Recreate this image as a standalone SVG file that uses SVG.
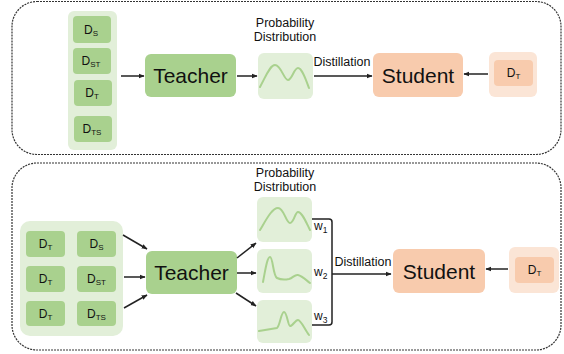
<svg xmlns="http://www.w3.org/2000/svg" width="564" height="354" viewBox="0 0 564 354">
<defs>
<marker id="ah" viewBox="0 0 10 10" refX="9" refY="5" markerWidth="4" markerHeight="4" orient="auto" markerUnits="strokeWidth">
<path d="M0,1 L10,5 L0,9 z" fill="#222"/>
</marker>
<style>
.panel{fill:#fff;stroke:#333;stroke-width:1.2;stroke-dasharray:2 1}
.grp{fill:#e2efd9}
.box{fill:#a9d18e}
.dist{fill:#e2efd9}
.curve{fill:none;stroke:#a9d18e;stroke-width:2;stroke-linejoin:round;stroke-linecap:round}
.stu{fill:#f8cbad}
.stuo{fill:#fbe5d6}
.big{font-family:"Liberation Sans",Arial,sans-serif;font-size:21px;fill:#111;text-anchor:middle}
.d{font-family:"Liberation Sans",Arial,sans-serif;font-size:12px;fill:#111;text-anchor:middle}
.sub{font-size:8px}
.lbl{font-family:"Liberation Sans",Arial,sans-serif;font-size:12.5px;fill:#111;text-anchor:middle}
.w{font-family:"Liberation Sans",Arial,sans-serif;font-size:12px;fill:#111}
.wsub{font-size:8.5px}
.arr{stroke:#222;stroke-width:1.5;fill:none;marker-end:url(#ah)}
.brk{stroke:#222;stroke-width:1.5;fill:none}
</style>
</defs>

<rect class="panel" x="12" y="1.5" width="549" height="153" rx="25"/>
<rect class="panel" x="12" y="163" width="549" height="187" rx="25"/>

<!-- top panel -->
<g id="top-data">
<rect class="grp" x="68" y="11" width="49" height="139" rx="6"/>
<rect class="box" x="73" y="16" width="38" height="27" rx="4"/>
<text class="d" x="91" y="34">D<tspan class="sub" dy="2">S</tspan></text>
<rect class="box" x="73" y="48" width="38" height="26" rx="4"/>
<text class="d" x="91" y="65">D<tspan class="sub" dy="2">ST</tspan></text>
<rect class="box" x="74" y="80" width="38" height="26" rx="4"/>
<text class="d" x="92" y="97">D<tspan class="sub" dy="2">T</tspan></text>
<rect class="box" x="74" y="116" width="38" height="26" rx="4"/>
<text class="d" x="92" y="133">D<tspan class="sub" dy="2">TS</tspan></text>
</g>
<g id="top-teacher">
<rect class="box" x="145" y="54" width="91" height="43" rx="6"/>
<text class="big" x="190.5" y="83">Teacher</text>
</g>
<g id="top-dist">
<text class="lbl" x="285" y="27">Probability</text>
<text class="lbl" x="285" y="41">Distribution</text>
<rect class="dist" x="258" y="53" width="55" height="46" rx="6"/>
<path class="curve" d="M260,87 C266,76 270,65 275,65 C281,65 284,80 288,80 C292,80 294,68 298,68 C302,68 306,80 309,88"/>
</g>
<g id="top-student">
<rect class="stu" x="373" y="53" width="90" height="44" rx="6"/>
<text class="big" x="418" y="83">Student</text>
</g>
<g id="top-dt">
<rect class="stuo" x="489" y="52" width="48" height="45" rx="6"/>
<rect class="stu" x="494" y="60" width="39" height="26" rx="4"/>
<text class="d" x="513.5" y="77">D<tspan class="sub" dy="2">T</tspan></text>
</g>

<!-- bottom panel -->
<g id="bot-data">
<rect class="grp" x="20" y="221" width="103" height="115" rx="10"/>
<rect class="box" x="26" y="231" width="39" height="26" rx="4"/>
<text class="d" x="45.5" y="248">D<tspan class="sub" dy="2">T</tspan></text>
<rect class="box" x="77" y="231" width="39" height="26" rx="4"/>
<text class="d" x="96.5" y="248">D<tspan class="sub" dy="2">S</tspan></text>
<rect class="box" x="26" y="266" width="39" height="26" rx="4"/>
<text class="d" x="45.5" y="283">D<tspan class="sub" dy="2">T</tspan></text>
<rect class="box" x="77" y="266" width="39" height="26" rx="4"/>
<text class="d" x="96.5" y="283">D<tspan class="sub" dy="2">ST</tspan></text>
<rect class="box" x="26" y="301" width="39" height="25" rx="4"/>
<text class="d" x="45.5" y="318">D<tspan class="sub" dy="2">T</tspan></text>
<rect class="box" x="77" y="301" width="39" height="25" rx="4"/>
<text class="d" x="96.5" y="318">D<tspan class="sub" dy="2">TS</tspan></text>
</g>
<g id="bot-teacher">
<rect class="box" x="146" y="251" width="91" height="43" rx="6"/>
<text class="big" x="191.5" y="280">Teacher</text>
</g>
<g id="bot-dist">
<text class="lbl" x="285" y="177">Probability</text>
<text class="lbl" x="285" y="191">Distribution</text>
<rect class="dist" x="257" y="197" width="55" height="45" rx="6"/>
<path class="curve" d="M260,230 C266,220 272,208 278,208 C284,208 286,223 290,223 C294,223 295,212 298,212 C302,212 306,222 310,230"/>
<rect class="dist" x="257" y="249" width="55" height="44" rx="6"/>
<path class="curve" d="M263,282 C265,272 267,257 270,257 C273,257 273,276 277,278 C281,280 284,280 289,279 C293,278 295,274 298,275 C302,276 306,280 310,283"/>
<rect class="dist" x="257" y="300" width="55" height="43" rx="6"/>
<path class="curve" d="M259,331 L277,328 C280,326 281,312 284,312 C287,312 288,326 290,326 C293,326 295,320 298,320 C301,320 305,330 309,335"/>
</g>
<g id="bot-weights">
<text class="w" x="314" y="230">w<tspan class="wsub" dy="3">1</tspan></text>
<text class="w" x="314" y="276">w<tspan class="wsub" dy="3">2</tspan></text>
<text class="w" x="314" y="320">w<tspan class="wsub" dy="3">3</tspan></text>
</g>
<g id="bot-student">
<rect class="stu" x="393" y="249" width="92" height="44" rx="6"/>
<text class="big" x="439" y="279">Student</text>
</g>
<g id="bot-dt">
<rect class="stuo" x="509" y="247" width="50" height="46" rx="6"/>
<rect class="stu" x="515" y="257" width="39" height="26" rx="4"/>
<text class="d" x="534.5" y="274">D<tspan class="sub" dy="2">T</tspan></text>
</g>

<g id="connectors">
<line class="arr" x1="121" y1="76" x2="144" y2="76"/>
<line class="arr" x1="237" y1="76" x2="257" y2="76"/>
<line class="arr" x1="314" y1="76" x2="372" y2="76"/>
<text class="lbl" x="342" y="66">Distillation</text>
<line class="arr" x1="488" y1="74" x2="464" y2="74"/>

<line class="arr" x1="123" y1="235" x2="147" y2="249"/>
<line class="arr" x1="124" y1="277" x2="145" y2="277"/>
<line class="arr" x1="124" y1="308" x2="147" y2="295"/>
<line class="arr" x1="237" y1="258" x2="256" y2="243"/>
<line class="arr" x1="237" y1="273" x2="256" y2="273"/>
<line class="arr" x1="236" y1="293" x2="256" y2="306"/>
<path class="brk" d="M312,219 H329 Q332,219 332,222 V322 Q332,325 329,325 H312"/>
<line class="arr" x1="332" y1="274" x2="391" y2="274"/>
<text class="lbl" x="363" y="266">Distillation</text>
<line class="arr" x1="508" y1="269" x2="486" y2="269"/>
</g>
</svg>
